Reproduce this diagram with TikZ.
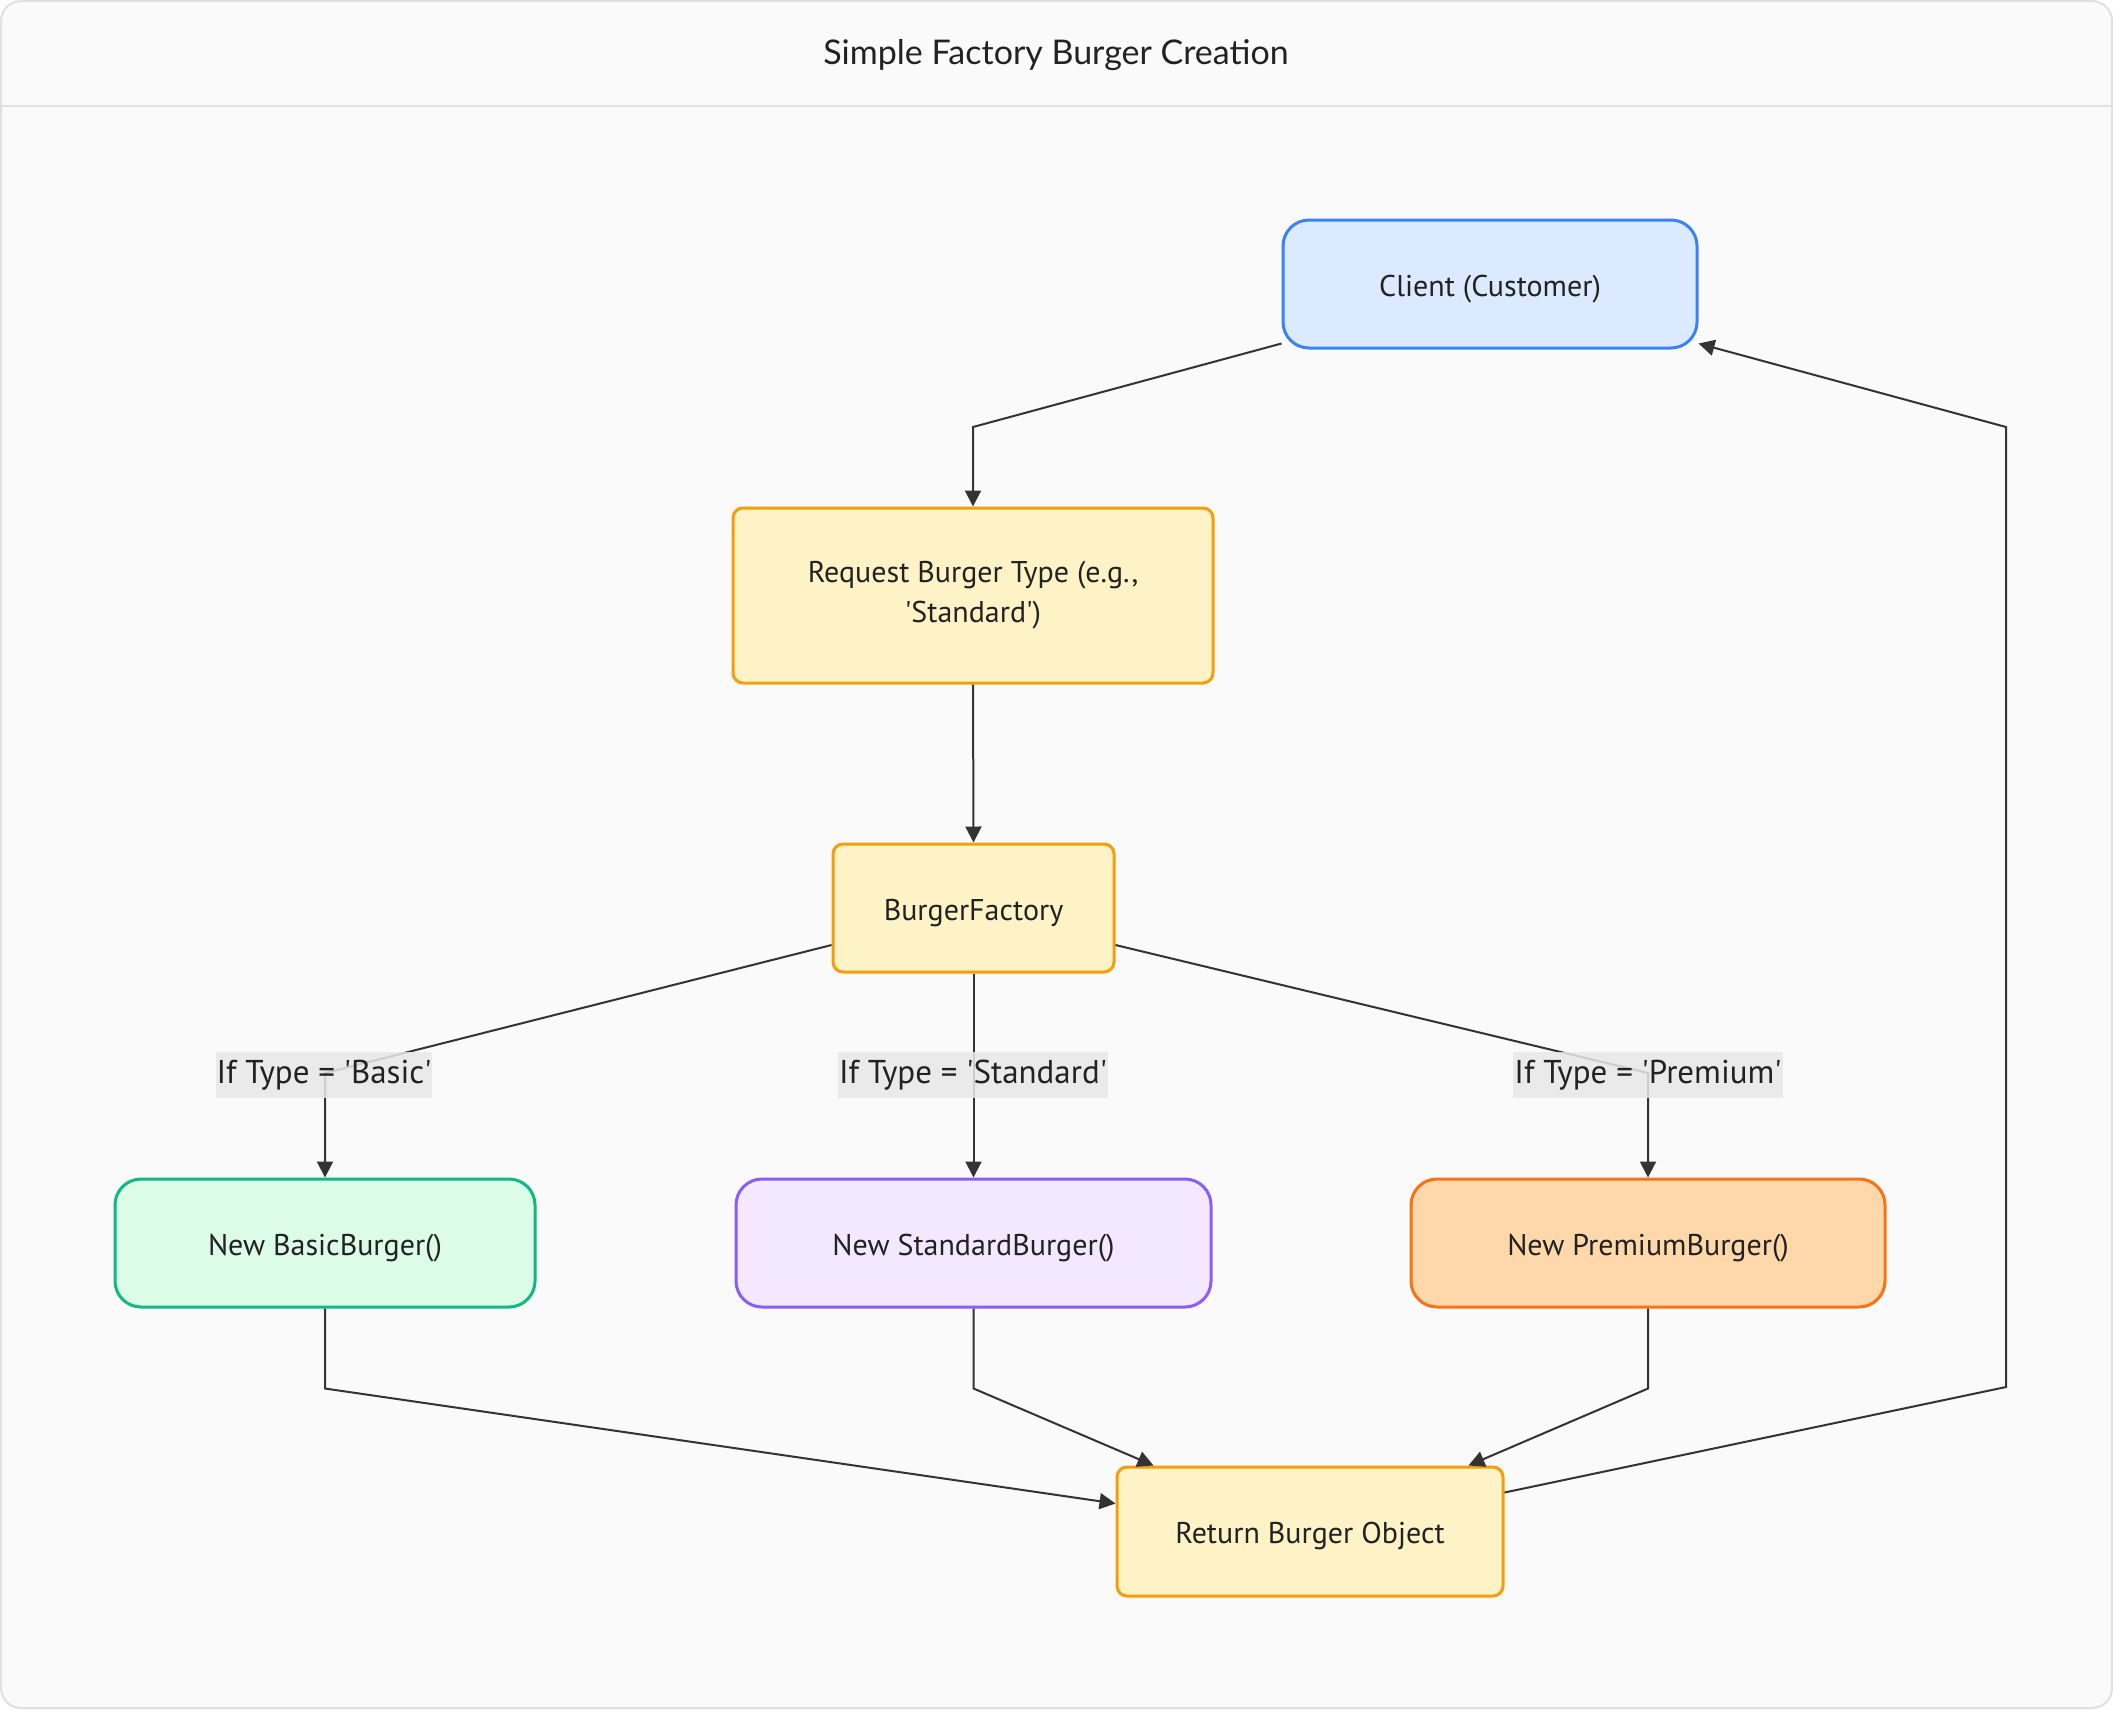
\documentclass[tikz,border=0pt]{standalone}
\usepackage{fontspec}
\setmainfont{PT Sans}
\newfontfamily\titlefont{Lato}
\usetikzlibrary{arrows.meta,calc}
\definecolor{bgcol}{HTML}{FAFAFA}
\definecolor{framecol}{HTML}{E0E0E0}
\definecolor{txt}{HTML}{222222}
\definecolor{edgecol}{HTML}{333333}
\definecolor{lblbg}{HTML}{E8E8E8}
\definecolor{blueF}{HTML}{DBEAFE}\definecolor{blueD}{HTML}{3B82F6}
\definecolor{yelF}{HTML}{FEF3C7}\definecolor{yelD}{HTML}{F59E0B}
\definecolor{grnF}{HTML}{DCFCE7}\definecolor{grnD}{HTML}{10B981}
\definecolor{purF}{HTML}{F3E8FF}\definecolor{purD}{HTML}{8B5CF6}
\definecolor{orgF}{HTML}{FED7AA}\definecolor{orgD}{HTML}{F97316}
\newcommand{\sq}{\textquotesingle}
\begin{document}
\begin{tikzpicture}[x=0.5pt,y=-0.5pt,
  box/.style={draw, line width=1.5pt, inner sep=0pt, text=txt, align=center,
    font=\fontsize{15}{20}\selectfont, minimum height=64pt},
  oneline/.style={text height=13pt, text depth=1pt},
  round/.style={rounded corners=13pt},
  sharp/.style={rounded corners=5pt},
  edge/.style={draw=edgecol, line width=1pt, -{Triangle[length=8pt,width=8pt]}},
  lbl/.style={fill=lblbg, fill opacity=0.85, text opacity=1, text=txt,
    inner xsep=0.5pt, inner ysep=0pt, minimum height=23pt,
    font=\fontsize{16.5}{20}\selectfont}]
\path[use as bounding box] (0,0) rectangle (2113,1709);
\draw[framecol, line width=1pt, fill=bgcol, rounded corners=10pt] (1,1) rectangle (2112,1708);
\draw[framecol, line width=1pt] (1,106) -- (2112,106);
\node[text=txt, font=\titlefont\fontsize{17}{20}\selectfont] (title) at (1056,55) {Simple Factory Burger Creation};

\node[box, oneline, round, fill=blueF, draw=blueD, minimum width=207pt] (client) at (1490,284) {Client (Customer)};
\node[box, sharp, fill=yelF, draw=yelD, minimum width=240pt, minimum height=87.5pt] (request) at (973,595.5) {Request Burger Type (e.g.,\\ \sq Standard\sq)};
\node[box, oneline, sharp, fill=yelF, draw=yelD, minimum width=140.5pt] (factory) at (973.5,908) {BurgerFactory};
\node[box, oneline, round, fill=grnF, draw=grnD, minimum width=210pt] (basic) at (325,1243) {New BasicBurger()};
\node[box, oneline, round, fill=purF, draw=purD, minimum width=237.5pt] (standard) at (973.5,1243) {New StandardBurger()};
\node[box, oneline, round, fill=orgF, draw=orgD, minimum width=237pt] (premium) at (1648,1243) {New PremiumBurger()};
\node[box, oneline, sharp, fill=yelF, draw=yelD, minimum width=193pt, minimum height=64.5pt] (return) at (1310,1531.5) {Return Burger Object};

\draw[edge] ([yshift=3pt]client.south west) -- (request.north |- {(0,427)}) -- (request.north);
\draw[edge] (request.south) -- (factory.north);
\draw[edge] ([yshift=-18.5pt]factory.west) -- (basic.north |- {(0,1073)}) -- (basic.north);
\draw[edge] (factory.south) -- (standard.north);
\draw[edge] ([yshift=-18.5pt]factory.east) -- (premium.north |- {(0,1073)}) -- (premium.north);
\draw[edge] (basic.south) -- ++(0,80) -- ([yshift=14pt]return.west);
\draw[edge] (standard.south) -- ++(0,80) -- ([xshift=19pt]return.north west);
\draw[edge] (premium.south) -- ++(0,80) -- ([xshift=-18pt]return.north east);
\draw[edge] ([yshift=19.5pt]return.east) -- (2006,1387) -- (2006,427) -- ([yshift=3pt]client.south east);

\node[lbl] (lb) at (324,1075) {If Type = \sq Basic\sq};
\node[lbl] (ls) at (973,1075) {If Type = \sq Standard\sq};
\node[lbl] (lp) at (1648,1075) {If Type = \sq Premium\sq};
\end{tikzpicture}
\end{document}
